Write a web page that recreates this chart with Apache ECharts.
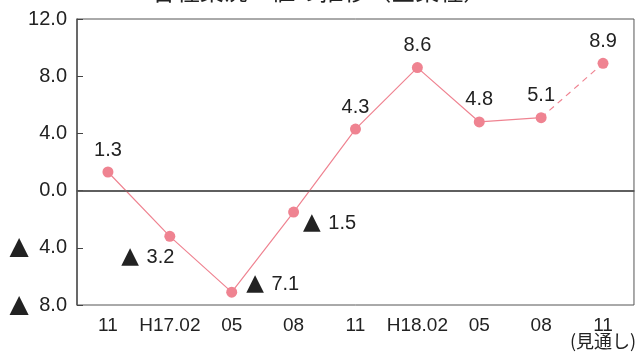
<!DOCTYPE html>
<html>
<head>
<meta charset="utf-8">
<script src="https://cdn.jsdelivr.net/npm/echarts@6/dist/echarts.min.js"></script>
<style>
  html, body { margin: 0; padding: 0; background: #fff; }
  #chart { width: 639px; height: 358px; }
</style>
</head>
<body>
<div id="chart"></div>
<script>
// 期間ラベル（最後は見通し）
const categories = ['11', 'H17.02', '05', '08', '11', 'H18.02', '05', '08', '11\n(見通し)'];
// DI値
const diValues = [1.3, -3.2, -7.1, -1.5, 4.3, 8.6, 4.8, 5.1, 8.9];
// 見通しの始まり（この点から破線）
const forecastFrom = 7;
const yTicks = [-8, -4, 0, 4, 8, 12];

const FONT = "'Liberation Sans', Arial, sans-serif";
const PINK = '#ef8391';

// ラベルのずらし（マイナス値は▲表記で横に置く）
const labelOffsets = {
  1: [-22, 21],
  2: [41, -8],
  3: [36, 11]
};

function fmt(v) {
  return v < 0 ? '{t|▲} ' + Math.abs(v).toFixed(1) : v.toFixed(1);
}

const labelRich = {
  t: { fontFamily: 'DejaVu Sans', fontSize: 23, color: '#222', padding: [0, 2, 0, 0] }
};

function pointData(v, i) {
  return {
    value: v,
    label: {
      show: true,
      position: 'inside',
      offset: labelOffsets[i] || [0, -22],
      formatter: () => fmt(v),
      fontFamily: FONT,
      fontSize: 20,
      color: '#222',
      rich: labelRich
    }
  };
}

const solidData = diValues.map((v, i) => (i <= forecastFrom ? pointData(v, i) : null));
const dashedData = diValues.map((v, i) => {
  if (i < forecastFrom) return null;
  if (i === forecastFrom) return { value: v, symbolSize: 0 };
  return pointData(v, i);
});

const chart = echarts.init(document.getElementById('chart'));
chart.setOption({
  animation: false,
  title: {
    text: '各種業況DI値の推移（全業種）',
    left: 'center',
    top: -26,
    textStyle: { fontFamily: 'Noto Sans CJK JP', fontSize: 24, fontWeight: 'normal', color: '#222' }
  },
  grid: {
    left: 77, right: 3, top: 19, bottom: 53,
    show: true, borderColor: '#555', borderWidth: 1
  },
  xAxis: {
    type: 'category',
    data: categories,
    boundaryGap: true,
    axisLine: { lineStyle: { color: '#555', width: 1.5 } },
    axisTick: { inside: true, length: 7, lineStyle: { color: '#444' } },
    axisLabel: {
      interval: 0,
      margin: 11,
      fontFamily: FONT,
      fontSize: 19,
      color: '#222',
      formatter: (s) => {
        const p = s.split('\n');
        return p.length > 1 ? '{a|' + p[0] + '}\n{b|' + p[1] + '}' : s;
      },
      rich: {
        a: { fontFamily: FONT, fontSize: 19, color: '#222', lineHeight: 19 },
        b: { fontFamily: 'Noto Sans CJK JP', fontSize: 18, color: '#222', lineHeight: 12 }
      }
    }
  },
  yAxis: {
    type: 'value',
    min: yTicks[0],
    max: yTicks[yTicks.length - 1],
    interval: 4,
    splitLine: { show: false },
    axisLine: { show: true, lineStyle: { color: '#555', width: 1.5 } },
    axisTick: { show: true, inside: true, length: 6, lineStyle: { color: '#444' } },
    axisLabel: {
      margin: 10,
      fontFamily: FONT,
      fontSize: 20,
      color: '#222',
      formatter: (v) => fmt(v),
      rich: { t: { fontFamily: 'DejaVu Sans', fontSize: 25, color: '#222', padding: [0, 5, 0, 0] } }
    }
  },
  series: [
    {
      type: 'line',
      data: solidData,
      symbol: 'circle',
      symbolSize: 11,
      itemStyle: { color: PINK },
      lineStyle: { color: PINK, width: 1.2 },
      markLine: {
        silent: true,
        symbol: 'none',
        label: { show: false },
        lineStyle: { color: '#555', width: 1.5, type: 'solid' },
        data: [{ yAxis: 0 }]
      },
      z: 3
    },
    {
      type: 'line',
      data: dashedData,
      symbol: 'circle',
      symbolSize: 11,
      itemStyle: { color: PINK },
      lineStyle: { color: PINK, width: 1.2, type: [6, 5] },
      z: 3
    }
  ]
});
</script>
</body>
</html>
